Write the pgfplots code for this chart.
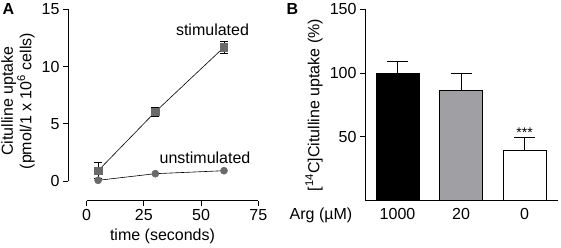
\documentclass[border=0pt]{standalone}
\usepackage{pgfplots}
\pgfplotsset{compat=1.18}
\usepackage{fontspec}
\setmainfont{Liberation Sans}
\newcommand\fs{\fontsize{16bp}{17bp}\selectfont}
\definecolor{markgray}{HTML}{6A6A6A}
\definecolor{bargray}{HTML}{A0A0A4}
\begin{document}
\begin{tikzpicture}
\path[use as bounding box] (0,0) rectangle (561bp,248bp);
% Panel A
\begin{axis}[
  at={(68bp,47.3bp)}, anchor=south west,
  scale only axis, width=190.3bp, height=191.2bp,
  xmin=-8.17, xmax=75, ymin=-1.723, ymax=15,
  axis x line*=bottom, axis y line*=left,
  axis line style={draw=none},
  xtick={0,25,50,75}, ytick={0,5,10,15},
  tick align=outside, major tick length=5bp,
  tick style={black, line width=0.9bp},
  every tick label/.append style={font=\fs},
  /pgf/number format/assume math mode=true,
  clip=false,
]
\draw[line width=0.9bp] (axis cs:-8.17,0) -- (axis cs:-8.17,15);
\draw[line width=0.9bp] (axis cs:0,-1.723) -- (axis cs:75,-1.723);
\addplot[black, line width=0.6bp, mark=*, mark size=3.5bp,
  mark options={fill=markgray, draw=markgray}]
  coordinates {(5,0.06) (30,0.64) (60,0.9)};
\addplot[black, line width=0.6bp, mark=square*, mark size=3.8bp,
  mark options={fill=markgray, draw=markgray},
  error bars/.cd, y dir=both, y explicit,
  error bar style={black, line width=0.7bp},
  error mark options={rotate=90, mark size=4bp, black, line width=0.7bp}]
  coordinates {(5,0.9) +- (0,0.7) (30,6.05) +- (0,0.4) (60,11.7) +- (0,0.5)};
\end{axis}
\node[font=\fs, anchor=base] at (212.5bp,212bp) {stimulated};
\node[font=\fs, anchor=base] at (205bp,84.7bp) {unstimulated};
\node[font=\fs, anchor=base] at (162.5bp,7.3bp) {time (seconds)};
\node[font=\fs\bfseries, anchor=base] at (8.5bp,233bp) {A};
\node[font=\fontsize{16bp}{16.5bp}\selectfont, rotate=90, align=center] at (18bp,147bp)
  {Citulline uptake\\(pmol/1 x 10\textsuperscript{6} cells)};
% Panel B
\begin{axis}[
  at={(365bp,47.7bp)}, anchor=south west,
  scale only axis, width=193bp, height=191bp,
  xmin=-0.512, xmax=2.527, ymin=0, ymax=150,
  axis x line*=bottom, axis y line*=left,
  axis line style={line width=0.9bp},
  xtick={0,1,2}, xticklabels={1000,20,0},
  ytick={50,100,150},
  tick align=outside, major tick length=5bp,
  tick style={black, line width=0.9bp},
  x tick style={draw=none},
  every tick label/.append style={font=\fs},
  /pgf/number format/assume math mode=true,
  clip=false,
]
\addplot[ybar, bar width=43bp, bar shift=0pt, fill=black, draw=black, line width=0.8bp,
  error bars/.cd, y dir=plus, y explicit,
  error bar style={black, line width=0.9bp},
  error mark options={rotate=90, mark size=10.5bp, black, line width=0.9bp}]
  coordinates {(0,100) +- (0,9.4)};
\addplot[ybar, bar width=43bp, bar shift=0pt, fill=bargray, draw=black, line width=0.8bp,
  error bars/.cd, y dir=plus, y explicit,
  error bar style={black, line width=0.9bp},
  error mark options={rotate=90, mark size=10.5bp, black, line width=0.9bp}]
  coordinates {(1,86.6) +- (0,13.4)};
\addplot[ybar, bar width=43bp, bar shift=0pt, fill=white, draw=black, line width=0.8bp,
  error bars/.cd, y dir=plus, y explicit,
  error bar style={black, line width=0.9bp},
  error mark options={rotate=90, mark size=10.5bp, black, line width=0.9bp}]
  coordinates {(2,39.2) +- (0,10)};
\node[font=\fontsize{14bp}{14bp}\selectfont, anchor=base, inner sep=0pt] at (axis cs:2,49.6) {***};
\end{axis}
\node[font=\fs, anchor=base] at (321bp,29bp) {Arg (µM)};
\node[font=\fs\bfseries, anchor=base] at (292.5bp,233bp) {B};
\node[font=\fs, rotate=90] at (314bp,143bp) {[\textsuperscript{14}C]Citulline uptake (\%)};
\end{tikzpicture}
\end{document}
